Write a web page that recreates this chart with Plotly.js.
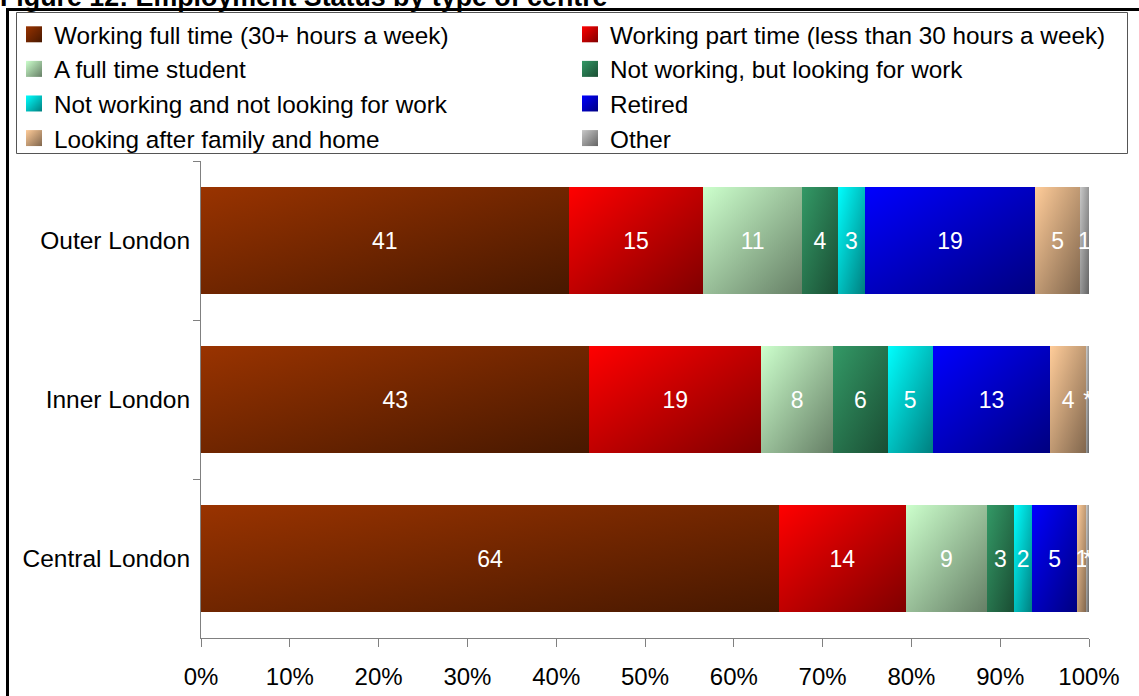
<!DOCTYPE html>
<html>
<head>
<meta charset="utf-8">
<script src="https://cdn.plot.ly/plotly-3.0.1.min.js"></script>
<style>
  html, body { margin: 0; padding: 0; background: #fff; }
  #chart { width: 1139px; height: 696px; }
</style>
</head>
<body>
<div id="chart"></div>
<script>
// ---- data ----
const categories = ['Outer London', 'Inner London', 'Central London'];
const seriesNames = [
  'Working full time (30+ hours a week)',
  'Working part time (less than 30 hours a week)',
  'A full time student',
  'Not working, but looking for work',
  'Not working and not looking for work',
  'Retired',
  'Looking after family and home',
  'Other'
];
const fullTime    = [41, 43, 64];
const partTime    = [15, 19, 14];
const student     = [11, 8, 9];
const lookingWork = [4, 6, 3];
const notLooking  = [3, 5, 2];
const retired     = [19, 13, 5];
const family      = [5, 4, 1];
const other       = [1, 0.3, 0.3];        // "*" = less than 0.5%
const otherLabels = ['1', '*', '*'];
const xTickVals   = [0, 10, 20, 30, 40, 50, 60, 70, 80, 90, 100];
const xTickText   = ['0%', '10%', '20%', '30%', '40%', '50%', '60%', '70%', '80%', '90%', '100%'];

// ---- styles ----
const midColors = ['#722700', '#c00000', '#9abf9a', '#277352', '#00bfbf', '#0000c0', '#c09973', '#909090'];
const gradStops = [
  ['#993300', '#471800'],
  ['#ff0000', '#800000'],
  ['#ccffcc', '#667f66'],
  ['#339966', '#1a4d33'],
  ['#00ffff', '#007f7f'],
  ['#0000ff', '#000080'],
  ['#ffcc99', '#80664d'],
  ['#c8c8c8', '#646464']
];

const seriesValues = [fullTime, partTime, student, lookingWork, notLooking, retired, family, other];
const seriesLabels = seriesValues.map((v, i) => i === 7 ? otherLabels : v.map(String));

const traces = seriesValues.map((vals, i) => ({
  type: 'bar',
  orientation: 'h',
  name: seriesNames[i],
  legend: (i % 2 === 0) ? 'legend' : 'legend2',
  y: categories,
  x: vals,
  text: seriesLabels[i],
  texttemplate: '%{text}',
  textposition: 'inside',
  insidetextanchor: 'middle',
  constraintext: 'none',
  textangle: 0,
  textfont: { family: 'Arial, Liberation Sans, sans-serif', size: 23, color: '#ffffff' },
  marker: { color: midColors[i], line: { width: 0 } },
  hoverinfo: 'skip'
}));

const PLOT_L = 201, PLOT_R = 1089, PLOT_T = 161, PLOT_B = 638;
const W = 1139, H = 696;
const pw = PLOT_R - PLOT_L, ph = PLOT_B - PLOT_T;
const px2x = p => (p - PLOT_L) / pw;
const py2y = p => (PLOT_B - p) / ph;

const legendFont = { family: 'Arial, Liberation Sans, sans-serif', size: 24.3, color: '#000' };

const layout = {
  width: W, height: H,
  margin: { l: PLOT_L, r: W - PLOT_R, t: PLOT_T, b: H - PLOT_B, pad: 0 },
  paper_bgcolor: '#ffffff',
  plot_bgcolor: '#ffffff',
  barmode: 'stack',
  barnorm: 'percent',
  bargap: 0.33,
  font: { family: 'Arial, Liberation Sans, sans-serif', color: '#000000', size: 23 },
  title: {
    text: '<b>Figure 12: Employment Status by type of centre</b>',
    font: { family: 'Arial, Liberation Sans, sans-serif', size: 26.8, color: '#000000' },
    xref: 'container', yref: 'container',
    x: 0, xanchor: 'left',
    y: 1.0, yanchor: 'middle'
  },
  xaxis: {
    range: [0, 100],
    tickvals: xTickVals,
    ticktext: xTickText,
    showgrid: false,
    zeroline: false,
    showline: true,
    linecolor: '#808080',
    linewidth: 1,
    ticks: 'outside',
    ticklen: 8,
    tickcolor: '#808080',
    ticklabelstandoff: 9,
    tickfont: { family: 'Arial, Liberation Sans, sans-serif', size: 24, color: '#000' },
    fixedrange: true
  },
  yaxis: {
    autorange: 'reversed',
    type: 'category',
    showgrid: false,
    zeroline: false,
    showline: true,
    linecolor: '#808080',
    linewidth: 1,
    ticks: 'outside',
    tickson: 'boundaries',
    ticklen: 7,
    tickcolor: '#808080',
    ticklabelstandoff: 5,
    tickfont: { family: 'Arial, Liberation Sans, sans-serif', size: 24.5, color: '#000' },
    fixedrange: true
  },
  showlegend: true,
  legend: {
    orientation: 'v',
    x: px2x(14), xanchor: 'left',
    y: py2y(12), yanchor: 'top',
    borderwidth: 0,
    bgcolor: 'rgba(0,0,0,0)',
    traceorder: 'normal',
    tracegroupgap: 0,
    font: legendFont
  },
  legend2: {
    orientation: 'v',
    x: px2x(570), xanchor: 'left',
    y: py2y(12), yanchor: 'top',
    borderwidth: 0,
    bgcolor: 'rgba(0,0,0,0)',
    traceorder: 'normal',
    tracegroupgap: 0,
    font: legendFont
  },
  shapes: [
    { // legend box
      type: 'rect', xref: 'paper', yref: 'paper',
      x0: px2x(16.5), x1: px2x(1127.5),
      y0: py2y(153.5), y1: py2y(12.5),
      line: { color: '#555555', width: 1 },
      fillcolor: 'rgba(0,0,0,0)',
      layer: 'below'
    },
    { // outer chart frame
      type: 'rect', xref: 'paper', yref: 'paper',
      x0: px2x(7.5), x1: px2x(1150),
      y0: py2y(720), y1: py2y(9.5),
      line: { color: '#000000', width: 3 },
      fillcolor: 'rgba(0,0,0,0)',
      layer: 'above'
    }
  ]
};

const gd = document.getElementById('chart');

function applyGradients() {
  const svg = gd.querySelector('svg.main-svg');
  if (!svg) return;
  const NS = 'http://www.w3.org/2000/svg';
  let defs = svg.querySelector('defs#my-grads');
  if (!defs) {
    defs = document.createElementNS(NS, 'defs');
    defs.setAttribute('id', 'my-grads');
    svg.insertBefore(defs, svg.firstChild);
    gradStops.forEach((s, i) => {
      const g = document.createElementNS(NS, 'linearGradient');
      g.setAttribute('id', 'grad' + i);
      g.setAttribute('x1', '0'); g.setAttribute('y1', '0');
      g.setAttribute('x2', '1'); g.setAttribute('y2', '1');
      [[0, s[0]], [1, s[1]]].forEach(([o, c]) => {
        const st = document.createElementNS(NS, 'stop');
        st.setAttribute('offset', o);
        st.setAttribute('stop-color', c);
        g.appendChild(st);
      });
      defs.appendChild(g);
    });
  }
  gd.querySelectorAll('.barlayer .trace.bars').forEach(tg => {
    const d = tg.__data__;
    if (!d || !d[0] || !d[0].trace) return;
    const idx = d[0].trace.index;
    tg.querySelectorAll('.point path').forEach(p => { p.style.fill = 'url(#grad' + idx + ')'; });
  });
  gd.querySelectorAll('.legendpoints').forEach(lp => {
    const tg = lp.closest('.traces');
    if (!tg) return;
    const d = tg.__data__;
    if (!d || !d[0] || !d[0].trace) return;
    const idx = d[0].trace.index;
    lp.querySelectorAll('path').forEach(p => {
      p.style.fill = 'url(#grad' + idx + ')';
      p.setAttribute('d', 'M8,8H-8V-8H8Z');
    });
  });
  const t = gd.querySelector('.g-gtitle');
  if (t) t.setAttribute('transform', 'translate(0,-3)');
}

Plotly.newPlot(gd, traces, layout, { staticPlot: true, displayModeBar: false })
  .then(() => { applyGradients(); gd.on && gd.on('plotly_afterplot', applyGradients); });
</script>
</body>
</html>
